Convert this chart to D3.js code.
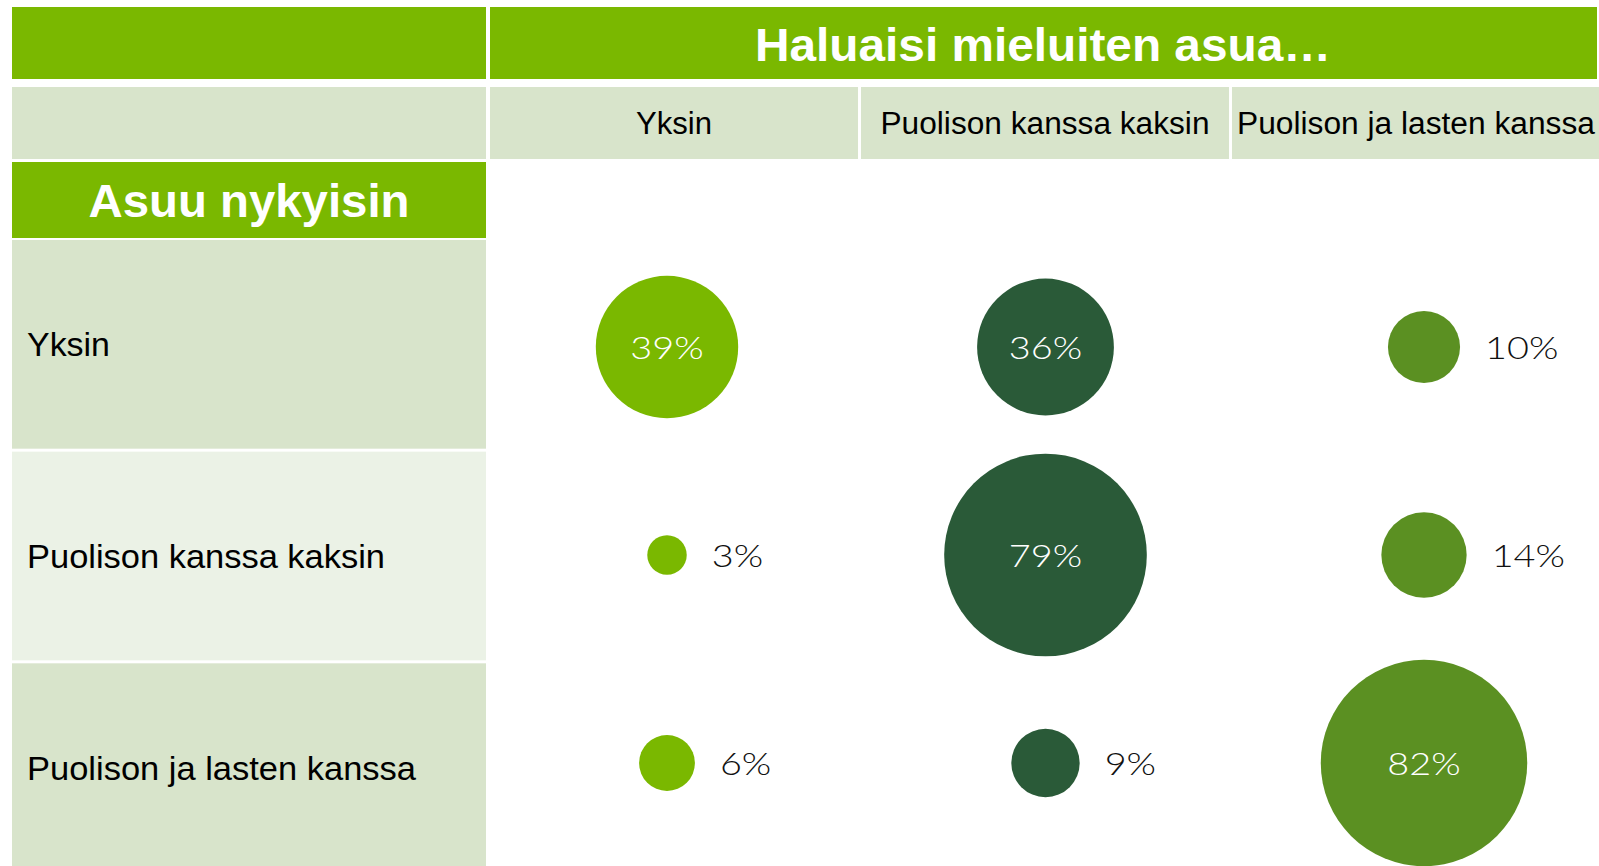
<!DOCTYPE html>
<meta charset="utf-8">
<style>
 body { margin: 0; background: white; }
 svg { display: block; }
 .hdr { font-family: 'Liberation Sans', Arial, sans-serif; }
 .pct { font-family: 'Lato', 'Open Sans', sans-serif; font-weight: 300; font-size: 31px; }
</style>
<svg width="1599" height="866"></svg>
<script src="https://d3js.org/d3.v7.min.js"></script>
<script>
 var title = 'Haluaisi mieluiten asua…';
 var rowTitle = 'Asuu nykyisin';
 var wanted = ['Yksin', 'Puolison kanssa kaksin', 'Puolison ja lasten kanssa'];
 var current = ['Yksin', 'Puolison kanssa kaksin', 'Puolison ja lasten kanssa'];
 // rows = current living, columns = wanted living, in percent
 var values = [
     [39, 36, 10],
     [3, 79, 14],
     [6, 9, 82]
 ];
 var colColors = ['#7ab800', '#2a5a38', '#5b9022'];

 var svg = d3.select('svg');
 var green = '#7ab800', pale = '#d8e4cb', paler = '#ebf2e6';

 // table layout
 var colBand = d3.scaleBand().domain(wanted).range([490, 1600]).paddingInner(0.008);
 var rowBand = d3.scaleBand().domain(current).range([240, 872]).paddingInner(0.014);

 // title bars
 svg.append('rect').attr('x', 12).attr('y', 7).attr('width', 474).attr('height', 72).attr('fill', green);
 svg.append('rect').attr('x', 490).attr('y', 7).attr('width', 1107).attr('height', 72).attr('fill', green);
 svg.append('text').attr('class', 'hdr')
     .attr('x', 1043).attr('y', 61).attr('text-anchor', 'middle')
     .attr('font-size', 47).attr('font-weight', 'bold').attr('fill', 'white')
     .attr('textLength', 576).attr('lengthAdjust', 'spacingAndGlyphs')
     .text(title);

 // column header row
 svg.append('rect').attr('x', 12).attr('y', 87).attr('width', 474).attr('height', 72).attr('fill', pale);
 var colHead = svg.selectAll('g.colhead').data(wanted).join('g').attr('class', 'colhead');
 colHead.append('rect')
     .attr('x', d => colBand(d)).attr('y', 87)
     .attr('width', colBand.bandwidth()).attr('height', 72)
     .attr('fill', pale);
 var colW = [76, 329, 358];
 colHead.append('text').attr('class', 'hdr')
     .attr('x', d => colBand(d) + colBand.bandwidth() / 2).attr('y', 134)
     .attr('text-anchor', 'middle').attr('font-size', 31).attr('fill', '#000')
     .attr('textLength', (d, i) => colW[i]).attr('lengthAdjust', 'spacingAndGlyphs')
     .text(d => d);

 // row title
 svg.append('rect').attr('x', 12).attr('y', 162).attr('width', 474).attr('height', 76).attr('fill', green);
 svg.append('text').attr('class', 'hdr')
     .attr('x', 249).attr('y', 217).attr('text-anchor', 'middle')
     .attr('font-size', 47).attr('font-weight', 'bold').attr('fill', 'white')
     .attr('textLength', 321).attr('lengthAdjust', 'spacingAndGlyphs')
     .text(rowTitle);

 // row headers
 var rowW = [83, 358, 389];
 var rowHead = svg.selectAll('g.rowhead').data(current).join('g').attr('class', 'rowhead');
 rowHead.append('rect')
     .attr('x', 12).attr('y', d => rowBand(d))
     .attr('width', 474).attr('height', rowBand.bandwidth())
     .attr('fill', (d, i) => i % 2 ? paler : pale);
 rowHead.append('text').attr('class', 'hdr')
     .attr('x', 27).attr('y', d => rowBand(d) + rowBand.bandwidth() / 2 + 12)
     .attr('font-size', 33).attr('fill', '#000')
     .attr('textLength', (d, i) => rowW[i]).attr('lengthAdjust', 'spacingAndGlyphs')
     .text(d => d);

 // bubbles
 var x = d3.scalePoint().domain(wanted).range([667, 1424]);
 var y = d3.scalePoint().domain(current).range([347, 763]);
 var r = d3.scaleSqrt().domain([0, 100]).range([0, 114]);

 var cells = [];
 current.forEach(function(row, i) {
     wanted.forEach(function(col, j) {
         cells.push({ row: row, col: col, j: j, value: values[i][j] });
     });
 });

 var bubble = svg.selectAll('g.bubble').data(cells).join('g').attr('class', 'bubble')
     .attr('transform', d => 'translate(' + x(d.col) + ',' + y(d.row) + ')');
 bubble.append('circle')
     .attr('r', d => r(d.value))
     .attr('fill', d => colColors[d.j]);
 bubble.append('text').attr('class', 'pct')
     .attr('x', d => d.value >= 30 ? 0 : r(d.value) + 25)
     .attr('y', 12)
     .attr('text-anchor', d => d.value >= 30 ? 'middle' : 'start')
     .attr('fill', d => d.value >= 30 ? 'white' : '#111')
     .text(d => d.value + '%')
     // label face in the original is wider than Lato, stretch a bit
     .attr('textLength', function() { return this.getComputedTextLength() * 1.22; })
     .attr('lengthAdjust', 'spacingAndGlyphs');
</script>
